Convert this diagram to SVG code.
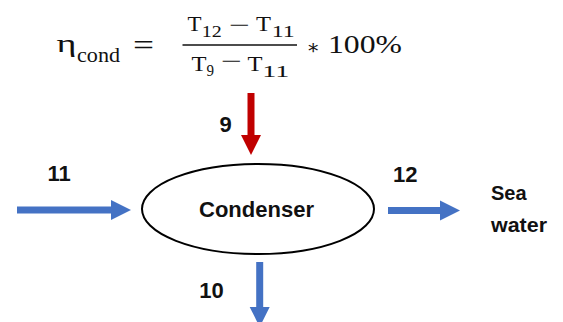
<svg xmlns="http://www.w3.org/2000/svg" width="563" height="322" viewBox="0 0 563 322">
  <style>
    .lbl { font-family: "Liberation Sans", Arial, sans-serif; font-weight: bold; fill: #111; }
    .num { font-size: 22px; }
    .math { font-family: "Liberation Serif", "DejaVu Serif", serif; fill: #111; }
    .blue { stroke: #4472C4; stroke-width: 7; fill: none; }
    .red { stroke: #C00000; stroke-width: 7; fill: none; }
  </style>
  <defs>
    <marker id="headBlue" markerUnits="userSpaceOnUse" markerWidth="20" markerHeight="20" refX="0" refY="10" orient="auto" overflow="visible">
      <path d="M0,0 L20,10 L0,20 Z" fill="#4472C4"/>
    </marker>
    <marker id="headRed" markerUnits="userSpaceOnUse" markerWidth="20" markerHeight="20" refX="0" refY="10" orient="auto" overflow="visible">
      <path d="M0,0 L20,10 L0,20 Z" fill="#C00000"/>
    </marker>
  </defs>
  <rect width="563" height="322" fill="#ffffff"/>

  <g id="formula" class="math">
    <text x="56.5" y="52" font-size="26" textLength="20" lengthAdjust="spacingAndGlyphs">η</text>
    <text x="77" y="61.7" font-size="21" textLength="43" lengthAdjust="spacingAndGlyphs">cond</text>
    <text x="133" y="55" font-size="30" textLength="21" lengthAdjust="spacingAndGlyphs">=</text>
    <!-- numerator -->
    <text x="187.5" y="30.7" font-size="22" textLength="14" lengthAdjust="spacingAndGlyphs">T</text>
    <text x="201.7" y="36.7" font-size="17" textLength="20" lengthAdjust="spacingAndGlyphs">12</text>
    <text x="229" y="33" font-size="24" textLength="21" lengthAdjust="spacingAndGlyphs">−</text>
    <text x="256" y="30.7" font-size="22" textLength="15" lengthAdjust="spacingAndGlyphs">T</text>
    <text x="271.7" y="36.7" font-size="17" textLength="23" lengthAdjust="spacingAndGlyphs">11</text>
    <line x1="182.5" y1="45" x2="297" y2="45" stroke="#111" stroke-width="1.4"/>
    <!-- denominator -->
    <text x="191.5" y="71" font-size="22" textLength="15" lengthAdjust="spacingAndGlyphs">T</text>
    <text x="206.5" y="75.5" font-size="17" textLength="7.5" lengthAdjust="spacingAndGlyphs">9</text>
    <text x="221" y="68.6" font-size="24" textLength="21" lengthAdjust="spacingAndGlyphs">−</text>
    <text x="247.5" y="71" font-size="22" textLength="15" lengthAdjust="spacingAndGlyphs">T</text>
    <text x="262.3" y="76.7" font-size="17" textLength="27" lengthAdjust="spacingAndGlyphs">11</text>
    <!-- multiplier -->
    <text x="306.5" y="54" font-size="20">∗</text>
    <text x="328" y="53.3" font-size="26" textLength="74" lengthAdjust="spacingAndGlyphs">100%</text>
  </g>

  <g id="condenser">
    <ellipse cx="258" cy="209" rx="116" ry="45" fill="#ffffff" stroke="#000" stroke-width="2"/>
    <text class="lbl" x="256.5" y="217" font-size="22" text-anchor="middle">Condenser</text>
  </g>

  <g id="sea-water">
    <text class="lbl" x="491" y="200" font-size="20">Sea</text>
    <text class="lbl" x="491" y="232" font-size="20" textLength="56" lengthAdjust="spacingAndGlyphs">water</text>
  </g>

  <g id="connectors">
    <line class="blue" x1="17" y1="210" x2="111" y2="210" marker-end="url(#headBlue)"/>
    <line class="blue" x1="388" y1="210.5" x2="440" y2="210.5" marker-end="url(#headBlue)"/>
    <line class="red" x1="251" y1="93" x2="251" y2="135" marker-end="url(#headRed)"/>
    <line class="blue" x1="259.7" y1="262" x2="259.7" y2="307" marker-end="url(#headBlue)"/>
  </g>

  <g id="labels">
    <text class="lbl num" x="47.5" y="181">11</text>
    <text class="lbl num" x="393" y="181.5">12</text>
    <text class="lbl num" x="219.5" y="131.7">9</text>
    <text class="lbl num" x="199.3" y="297.7">10</text>
  </g>
</svg>
